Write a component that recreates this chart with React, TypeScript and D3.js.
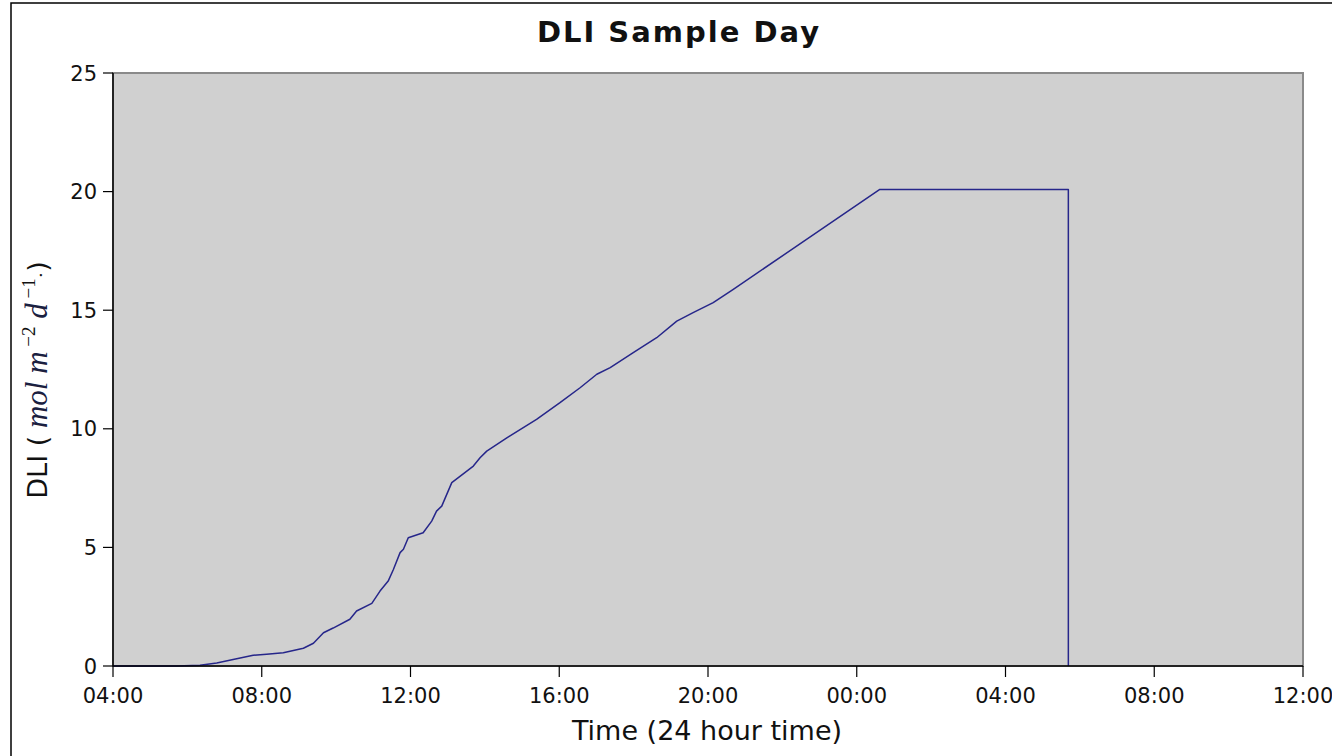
import React from "react";
import * as d3 from "d3";

// Daily light integral accumulated over the sample day.
// Times are hours since midnight of the first day (values past 24 fall on the next day).
const timeHours = [
  4.0, 5.71, 6.34, 6.79, 7.23, 7.77, 8.13, 8.58, 9.12, 9.39, 9.66, 9.92, 10.37, 10.55,
  10.96, 11.18, 11.4, 11.54, 11.72, 11.81, 11.94, 12.34, 12.57, 12.7, 12.84, 13.11,
  13.69, 13.87, 14.05, 14.59, 15.39, 16.02, 16.56, 17.01, 17.37, 17.99, 18.62, 19.16,
  19.6, 20.14, 20.68, 24.62, 29.69, 29.69,
];
const dliValues = [
  0, 0, 0.03, 0.13, 0.27, 0.45, 0.5, 0.56, 0.75, 0.96, 1.4, 1.6, 1.97, 2.32,
  2.64, 3.16, 3.58, 4.07, 4.78, 4.92, 5.41, 5.62, 6.11, 6.53, 6.74, 7.73,
  8.43, 8.78, 9.06, 9.62, 10.4, 11.1, 11.73, 12.3, 12.58, 13.21, 13.84, 14.54,
  14.9, 15.32, 15.88, 20.09, 20.09, 0,
];
const yTicks = [0, 5, 10, 15, 20, 25];
const domainHours = [4, 36];

const W = 1332;
const H = 756;
const margin = { left: 113, top: 73, right: 1303, bottom: 666 };

const base = new Date(2000, 0, 1, 0, 0, 0).getTime();
const toDate = (h: number) => new Date(base + h * 3600 * 1000);

export default function App() {
  const x = d3
    .scaleTime()
    .domain(domainHours.map(toDate))
    .range([margin.left, margin.right]);
  const y = d3.scaleLinear().domain([0, 25]).range([margin.bottom, margin.top]);

  const xTicks = x.ticks(d3.timeHour.every(4) as d3.TimeInterval);
  const fmt = d3.timeFormat("%H:%M");

  const points = timeHours.map((h, i) => [toDate(h), dliValues[i]] as [Date, number]);
  const line = d3
    .line<[Date, number]>()
    .x((d) => x(d[0]))
    .y((d) => y(d[1]));

  const sans = "'DejaVu Sans', sans-serif";
  const serif = "'Liberation Serif', 'DejaVu Serif', serif";
  const yLabelX = 47;
  const yLabelY = 380;

  return (
    <svg
      width={W}
      height={H}
      style={{ position: "absolute", left: 0, top: 0, background: "#fff" }}
    >
      {/* outer frame */}
      <rect x={11} y={3} width={W + 20} height={H + 20} fill="#fff" stroke="#000" strokeWidth={1.5} />

      {/* title */}
      <text
        x={679}
        y={42}
        textAnchor="middle"
        fontFamily={sans}
        fontWeight="bold"
        fontSize={29}
        letterSpacing={2}
        fill="#111"
      >
        DLI Sample Day
      </text>

      {/* plot area */}
      <rect
        x={margin.left}
        y={margin.top}
        width={margin.right - margin.left}
        height={margin.bottom - margin.top}
        fill="#d0d0d0"
        stroke="#8a8a8a"
        strokeWidth={2}
      />

      {/* data line */}
      <path
        d={line(points) || ""}
        fill="none"
        stroke="#26268a"
        strokeWidth={1.5}
        strokeLinejoin="round"
      />

      {/* axes */}
      <line x1={margin.left} x2={margin.right} y1={margin.bottom} y2={margin.bottom} stroke="#000" strokeWidth={1.5} />
      <line x1={margin.left} x2={margin.left} y1={margin.top} y2={margin.bottom} stroke="#000" strokeWidth={1.5} />

      {yTicks.map((t) => (
        <g key={t}>
          <line x1={margin.left - 10} x2={margin.left} y1={y(t)} y2={y(t)} stroke="#000" strokeWidth={1.2} />
          <text
            x={margin.left - 16}
            y={y(t) + 7.5}
            textAnchor="end"
            fontFamily={sans}
            fontSize={21}
            fill="#111"
          >
            {t}
          </text>
        </g>
      ))}

      {xTicks.map((t, i) => (
        <g key={i}>
          <line x1={x(t)} x2={x(t)} y1={margin.bottom} y2={margin.bottom + 11} stroke="#000" strokeWidth={1.2} />
          <text
            x={x(t)}
            y={703}
            textAnchor="middle"
            fontFamily={sans}
            fontSize={21}
            fill="#111"
          >
            {fmt(t)}
          </text>
        </g>
      ))}

      {/* axis titles */}
      <text x={707} y={740} textAnchor="middle" fontFamily={sans} fontSize={27} fill="#111">
        Time (24 hour time)
      </text>

      <text
        transform={`translate(${yLabelX},${yLabelY}) rotate(-90)`}
        textAnchor="middle"
        fontFamily={sans}
        fontSize={27}
        fill="#111"
      >
        DLI (
        <tspan fontFamily={serif} fontStyle="italic" fontSize={31} fill="#1a2040">
          {" mol m"}
        </tspan>
        <tspan dy={-12} fontFamily={serif} fontSize={19}>
          {" −2"}
        </tspan>
        <tspan dy={12} fontFamily={serif} fontStyle="italic" fontSize={31} fill="#1a2040">
          {" d"}
        </tspan>
        <tspan dy={-12} fontFamily={serif} fontSize={19}>
          {" −1"}
        </tspan>
        <tspan dy={12} fontFamily={serif} fontSize={19}>
          ·
        </tspan>
        <tspan>)</tspan>
      </text>
    </svg>
  );
}
